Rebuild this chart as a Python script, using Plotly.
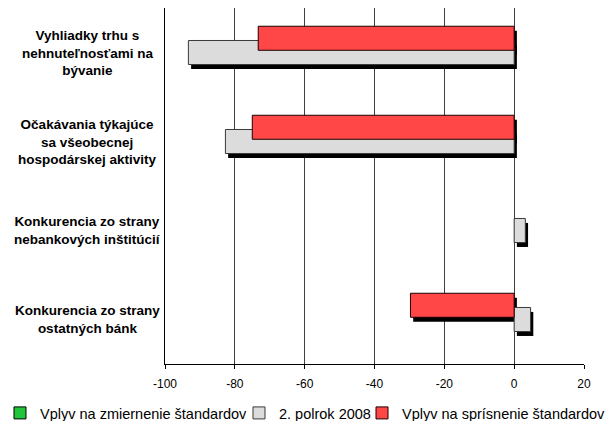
import plotly.graph_objects as go

categories = [
    "Vyhliadky trhu s<br>nehnuteľnosťami na<br>bývanie",
    "Očakávania týkajúce<br>sa všeobecnej<br>hospodárskej aktivity",
    "Konkurencia zo strany<br>nebankových inštitúcií",
    "Konkurencia zo strany<br>ostatných bánk",
]
series_names = ["Vplyv na zmiernenie štandardov", "2. polrok 2008", "Vplyv na sprísnenie štandardov"]
green_vals = [0, 0, 0, 0]
gray_vals = [-93.3, -82.7, 3.2, 4.7]
red_vals = [-73.3, -75.0, 0, -29.7]
x_ticks = [-100, -80, -60, -40, -20, 0, 20]

BAR_W = 0.27
offsets = {"green": 0.02, "gray": -0.135, "red": -0.295}
fills = {"green": "#22c43a", "gray": "#dcdcdc", "red": "#ff4747"}
lines = {"green": "#000000", "gray": "#3a3a3a", "red": "#1a0000"}
legend_ids = {"green": "legend", "gray": "legend2", "red": "legend3"}
legend_x = {"green": -0.3938, "gray": 0.1766, "red": 0.4702}
SH_DX = 0.78   # shadow shift in x data units (~2.7px)
SH_DY = 0.05   # shadow shift in category units (~4.5px)


def visible(vals):
    # zero-length bars are not drawn in the reference
    return [v if v != 0 else None for v in vals]


data = [("green", green_vals), ("gray", gray_vals), ("red", red_vals)]

fig = go.Figure()

# shadows first
for key, vals in data:
    fig.add_trace(go.Bar(
        y=categories, x=visible(vals), base=[SH_DX] * len(vals), orientation="h",
        width=BAR_W, offset=offsets[key] + SH_DY,
        marker=dict(color="#000000", line=dict(width=0)),
        showlegend=False, hoverinfo="skip",
    ))

for (key, vals), name in zip(data, series_names):
    fig.add_trace(go.Bar(
        y=categories, x=visible(vals), orientation="h", name=name,
        width=BAR_W, offset=offsets[key], legend=legend_ids[key],
        marker=dict(color=fills[key], line=dict(color=lines[key], width=1)),
    ))

for cat in categories:
    fig.add_annotation(
        x=-0.186, xref="paper", y=cat, yref="y", text=cat, showarrow=False,
        xanchor="center", yanchor="middle", align="center",
        font=dict(family="Liberation Sans, Arial, sans-serif", size=13.5, color="#000000", weight="bold"),
    )

legend_common = dict(
    orientation="h", xanchor="left", y=-0.1376, yanchor="middle",
    font=dict(size=14.5, family="Liberation Sans, Arial, sans-serif", color="#000000"),
    bgcolor="rgba(0,0,0,0)", borderwidth=0,
)

fig.update_layout(
    width=606, height=413,
    margin=dict(l=157, r=30, t=0, b=57, autoexpand=False),
    paper_bgcolor="white", plot_bgcolor="white",
    barmode="overlay",
    font=dict(family="Liberation Sans, Arial, sans-serif", size=12, color="#000000"),
    xaxis=dict(
        range=[-100, 20], tickvals=x_ticks, ticktext=[str(v) for v in x_ticks],
        showgrid=True, gridcolor="#404040", gridwidth=1,
        showline=True, linecolor="#000000", linewidth=1,
        ticks="outside", ticklen=4, tickcolor="#000000", ticklabelstandoff=5,
        zeroline=False, fixedrange=True,
    ),
    yaxis=dict(
        categoryorder="array", categoryarray=categories, autorange="reversed",
        showticklabels=False, showgrid=False, zeroline=False,
        showline=True, linecolor="#000000", linewidth=1, ticks="",
        fixedrange=True,
    ),
    legend=dict(x=legend_x["green"], **legend_common),
    legend2=dict(x=legend_x["gray"], **legend_common),
    legend3=dict(x=legend_x["red"], **legend_common),
    showlegend=True,
)

fig.write_html("out.html")
